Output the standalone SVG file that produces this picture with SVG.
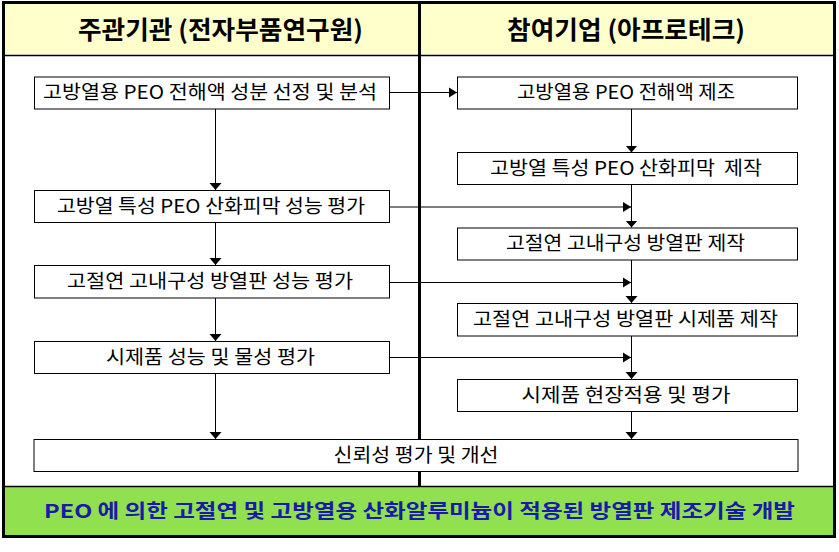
<svg xmlns="http://www.w3.org/2000/svg" width="839" height="552" viewBox="0 0 839 552">
<defs>
<marker id="av" markerUnits="userSpaceOnUse" markerWidth="8" markerHeight="14" viewBox="0 -7 8 14" refX="7" refY="0" orient="auto"><path d="M0,-6 L7,0 L0,6 z" fill="#000"/></marker>
<marker id="ah" markerUnits="userSpaceOnUse" markerWidth="9" markerHeight="12" viewBox="0 -6 9 12" refX="8" refY="0" orient="auto"><path d="M0,-5 L8,0 L0,5 z" fill="#000"/></marker>
<style>
.box{fill:#fff;stroke:#000;stroke-width:1}
.t{font-family:"Noto Sans CJK KR","Noto Sans",sans-serif;font-size:19px;fill:#000;text-anchor:middle}
.h{font-family:"Noto Sans CJK KR","Noto Sans",sans-serif;font-size:25px;font-weight:bold;fill:#000;text-anchor:middle}
.g{font-family:"Noto Sans CJK KR","Noto Sans",sans-serif;font-size:19px;font-weight:bold;fill:#1a1aa8;text-anchor:middle}
.c{fill:none;stroke:#000;stroke-width:1}
</style>
</defs>
<rect x="0" y="0" width="839" height="552" fill="#fff"/>
<g id="frame">
<rect x="3.5" y="3" width="831" height="51.5" fill="#FFFFCC"/>
<rect x="3.5" y="486.5" width="831" height="50" fill="#90E050"/>
<line x1="3" y1="55.5" x2="835" y2="55.5" stroke="#000" stroke-width="1.5"/>
<line x1="3" y1="486.5" x2="835" y2="486.5" stroke="#000" stroke-width="1.5"/>
<line x1="419.5" y1="2" x2="419.5" y2="487" stroke="#000" stroke-width="3"/>
<rect x="3.5" y="2.5" width="831" height="534" fill="none" stroke="#000" stroke-width="3"/>
</g>
<g id="header-left"><text class="h" x="220.5" y="39" textLength="285" lengthAdjust="spacingAndGlyphs">주관기관 (전자부품연구원)</text></g>
<g id="header-right"><text class="h" x="626" y="39" textLength="238" lengthAdjust="spacingAndGlyphs">참여기업 (아프로테크)</text></g>
<g id="connectors">
<line class="c" x1="389" y1="92.5" x2="457" y2="92.5" marker-end="url(#ah)"/>
<line class="c" x1="389" y1="207" x2="631" y2="207" marker-end="url(#ah)"/>
<line class="c" x1="389" y1="282.5" x2="631" y2="282.5" marker-end="url(#ah)"/>
<line class="c" x1="389" y1="357.5" x2="631" y2="357.5" marker-end="url(#ah)"/>
<line class="c" x1="215.5" y1="109" x2="215.5" y2="190" marker-end="url(#av)"/>
<line class="c" x1="215.5" y1="222.5" x2="215.5" y2="265" marker-end="url(#av)"/>
<line class="c" x1="215.5" y1="298" x2="215.5" y2="341" marker-end="url(#av)"/>
<line class="c" x1="215.5" y1="373.5" x2="215.5" y2="439" marker-end="url(#av)"/>
<line class="c" x1="631.5" y1="109" x2="631.5" y2="152.5" marker-end="url(#av)"/>
<line class="c" x1="631.5" y1="184.5" x2="631.5" y2="227.5" marker-end="url(#av)"/>
<line class="c" x1="631.5" y1="260" x2="631.5" y2="303" marker-end="url(#av)"/>
<line class="c" x1="631.5" y1="336" x2="631.5" y2="379" marker-end="url(#av)"/>
<line class="c" x1="631.5" y1="411.5" x2="631.5" y2="439" marker-end="url(#av)"/>
</g>
<g id="L1"><rect class="box" x="34.5" y="77" width="355" height="32"/><text class="t" x="210" y="99" textLength="334" lengthAdjust="spacingAndGlyphs">고방열용 PEO 전해액 성분 선정 및 분석</text></g>
<g id="L2"><rect class="box" x="34.5" y="190.5" width="355" height="32"/><text class="t" x="211" y="212.5" textLength="308" lengthAdjust="spacingAndGlyphs">고방열 특성 PEO 산화피막 성능 평가</text></g>
<g id="L3"><rect class="box" x="34.5" y="265.5" width="355" height="32.5"/><text class="t" x="210" y="288" textLength="286" lengthAdjust="spacingAndGlyphs">고절연 고내구성 방열판 성능 평가</text></g>
<g id="L4"><rect class="box" x="34.5" y="341.5" width="355" height="32"/><text class="t" x="210.5" y="363.5" textLength="209" lengthAdjust="spacingAndGlyphs">시제품 성능 및 물성 평가</text></g>
<g id="R1"><rect class="box" x="457.5" y="77" width="340" height="32"/><text class="t" x="626" y="99" textLength="218" lengthAdjust="spacingAndGlyphs">고방열용 PEO 전해액 제조</text></g>
<g id="R2"><rect class="box" x="457.5" y="152.5" width="340" height="32"/><text class="t" x="626" y="174.5" textLength="272" lengthAdjust="spacingAndGlyphs" xml:space="preserve">고방열 특성 PEO 산화피막  제작</text></g>
<g id="R3"><rect class="box" x="457.5" y="228" width="340" height="32"/><text class="t" x="625.5" y="250" textLength="239" lengthAdjust="spacingAndGlyphs">고절연 고내구성 방열판 제작</text></g>
<g id="R4"><rect class="box" x="457.5" y="303.5" width="340" height="32.5"/><text class="t" x="625.5" y="326" textLength="305" lengthAdjust="spacingAndGlyphs">고절연 고내구성 방열판 시제품 제작</text></g>
<g id="R5"><rect class="box" x="457.5" y="379.5" width="340" height="32"/><text class="t" x="626" y="401.5" textLength="209" lengthAdjust="spacingAndGlyphs">시제품 현장적용 및 평가</text></g>
<g id="B1"><rect class="box" x="34" y="439.5" width="764" height="32"/><text class="t" x="416" y="461.5" textLength="165" lengthAdjust="spacingAndGlyphs">신뢰성 평가 및 개선</text></g>
<g id="goal"><text class="g" x="419.5" y="518" textLength="751" lengthAdjust="spacingAndGlyphs">PEO 에 의한 고절연 및 고방열용 산화알루미늄이 적용된 방열판 제조기술 개발</text></g>
</svg>
